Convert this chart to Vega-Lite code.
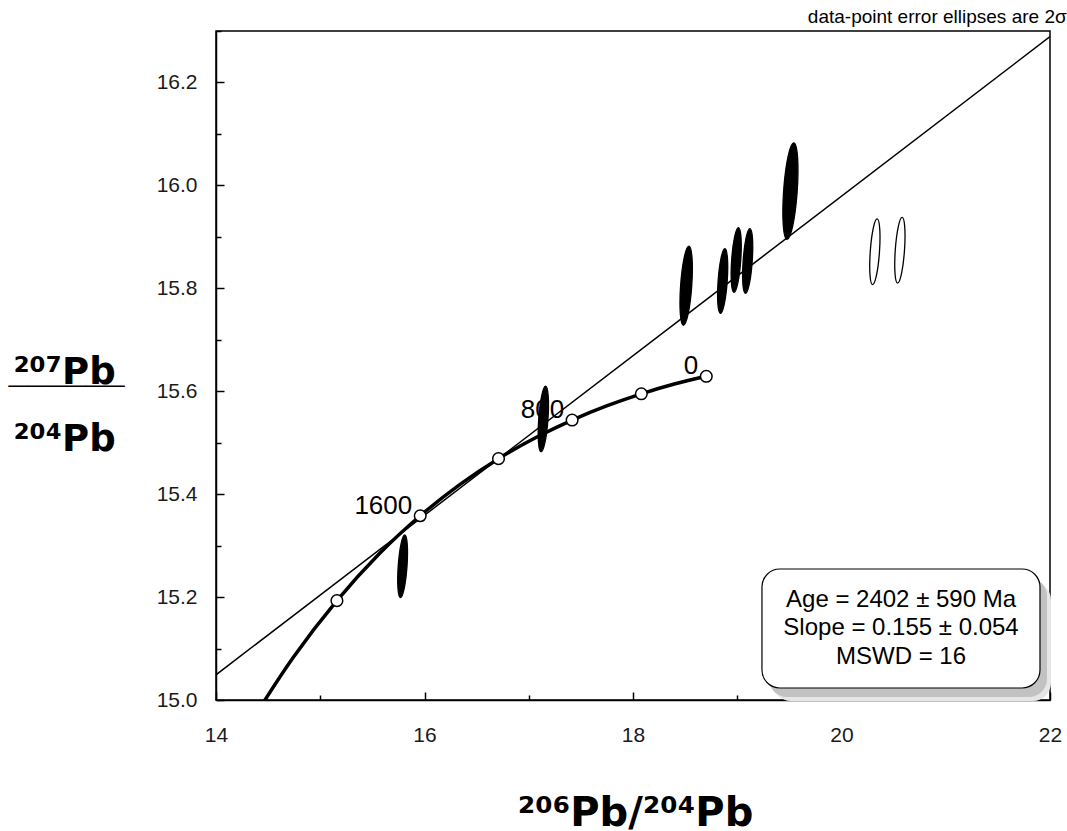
{
  "$schema": "https://vega.github.io/schema/vega-lite/v6.json",
  "width": 834,
  "height": 669,
  "autosize": "none",
  "padding": {"left": 216, "top": 31, "right": 17, "bottom": 131},
  "background": "white",
  "title": {
    "text": "data-point error ellipses are 2σ",
    "anchor": "end",
    "fontSize": 19,
    "fontWeight": "normal",
    "font": "Liberation Sans",
    "color": "#000000",
    "baseline": "alphabetic",
    "offset": 6,
    "dx": 5,
    "dy": 18
  },
  "config": {
    "view": {"stroke": "black", "strokeWidth": 1.5},
    "axis": {
      "domainColor": "black",
      "domainWidth": 1.5,
      "tickColor": "black",
      "tickWidth": 1.5,
      "grid": false,
      "labelFlush": false,
      "labelFont": "Liberation Sans",
      "labelFontSize": 21,
      "labelColor": "#1a1a1a",
      "titleFont": "DejaVu Sans",
      "titleFontWeight": "bold",
      "titleColor": "black"
    }
  },
  "resolve": {"axis": {"y": "independent"}},
  "datasets": {
    "iso": [
      {"x": 14, "y": 15.049},
      {"x": 22, "y": 16.289}
    ],
    "curve": [
      {"age": 0, "x": 18.703, "y": 15.629, "label": "0"},
      {"age": 200, "x": 18.396, "y": 15.614, "label": ""},
      {"age": 400, "x": 18.080, "y": 15.595, "label": ""},
      {"age": 600, "x": 17.753, "y": 15.572, "label": ""},
      {"age": 800, "x": 17.416, "y": 15.544, "label": "800"},
      {"age": 1000, "x": 17.069, "y": 15.510, "label": ""},
      {"age": 1200, "x": 16.710, "y": 15.469, "label": ""},
      {"age": 1400, "x": 16.341, "y": 15.419, "label": ""},
      {"age": 1600, "x": 15.959, "y": 15.358, "label": "1600"},
      {"age": 1800, "x": 15.566, "y": 15.284, "label": ""},
      {"age": 2000, "x": 15.160, "y": 15.193, "label": ""},
      {"age": 2200, "x": 14.742, "y": 15.083, "label": ""},
      {"age": 2400, "x": 14.310, "y": 14.949, "label": ""}
    ],
    "ellipses": [
      {"x": 15.79, "y": 15.260, "h": 0.122, "status": "used"},
      {"x": 17.14, "y": 15.546, "h": 0.128, "status": "used"},
      {"x": 18.51, "y": 15.805, "h": 0.154, "status": "used"},
      {"x": 18.86, "y": 15.814, "h": 0.126, "status": "used"},
      {"x": 18.99, "y": 15.855, "h": 0.126, "status": "used"},
      {"x": 19.10, "y": 15.853, "h": 0.126, "status": "used"},
      {"x": 19.51, "y": 15.989, "h": 0.188, "status": "used"},
      {"x": 20.32, "y": 15.871, "h": 0.128, "status": "rejected"},
      {"x": 20.56, "y": 15.874, "h": 0.128, "status": "rejected"}
    ],
    "box": [
      {"x": 19.237, "x2": 21.904, "y": 15.0233, "y2": 15.2546}
    ],
    "boxtext": [
      {"t": "Age = 2402 ± 590 Ma", "x": 20.571, "y": 15.194},
      {"t": "Slope = 0.155 ± 0.054", "x": 20.571, "y": 15.140},
      {"t": "MSWD = 16", "x": 20.571, "y": 15.084}
    ]
  },
  "encoding": {
    "x": {
      "field": "x",
      "type": "quantitative",
      "scale": {"domain": [14, 22], "nice": false, "zero": false},
      "axis": {
        "values": [14, 15, 16, 17, 18, 19, 20, 21, 22],
        "labelExpr": "datum.value % 2 === 0 ? datum.label : ''",
        "tickSize": {"condition": {"test": "datum.value % 2 === 0", "value": -8}, "value": -5},
        "labelPadding": 32,
        "title": "²⁰⁶Pb/²⁰⁴Pb",
        "titleFontSize": 40,
        "titleX": 419,
        "titleY": 125,
        "titleAlign": "center",
        "titleBaseline": "alphabetic"
      }
    },
    "y": {
      "field": "y",
      "type": "quantitative",
      "scale": {"domain": [15, 16.3], "nice": false, "zero": false},
      "axis": null
    }
  },
  "layer": [
    {
      "data": {"name": "iso"},
      "mark": {"type": "line", "opacity": 0},
      "encoding": {
        "y": {
          "field": "y",
          "type": "quantitative",
          "scale": {"domain": [15, 16.3], "nice": false, "zero": false},
          "axis": {
            "orient": "left",
            "domain": false,
            "ticks": false,
            "labels": false,
            "title": "¯¯¯¯¯¯",
            "titleFont": "Liberation Sans",
            "titleFontSize": 35,
            "titleAngle": 0,
            "titleAlign": "center",
            "titleBaseline": "alphabetic",
            "titleX": -150,
            "titleY": 380
          }
        }
      }
    },
    {
      "data": {"name": "box"},
      "mark": {"type": "rect", "fill": "#e6e6e6", "cornerRadius": 18, "xOffset": 11, "x2Offset": 11, "yOffset": 13, "y2Offset": 13},
      "encoding": {"x2": {"field": "x2"}, "y2": {"field": "y2"}}
    },
    {
      "data": {"name": "box"},
      "mark": {"type": "rect", "fill": "#c2c2c2", "cornerRadius": 18, "xOffset": 7, "x2Offset": 7, "yOffset": 9, "y2Offset": 9},
      "encoding": {"x2": {"field": "x2"}, "y2": {"field": "y2"}}
    },
    {
      "data": {"name": "box"},
      "mark": {"type": "rect", "fill": "white", "stroke": "black", "strokeWidth": 1.2, "cornerRadius": 18},
      "encoding": {"x2": {"field": "x2"}, "y2": {"field": "y2"}}
    },
    {
      "data": {"name": "boxtext"},
      "mark": {"type": "text", "align": "center", "baseline": "middle", "fontSize": 24, "font": "Liberation Sans", "color": "black"},
      "encoding": {"text": {"field": "t"}}
    },
    {
      "data": {"name": "iso"},
      "mark": {"type": "line", "color": "black", "strokeWidth": 1.5, "clip": true},
      "encoding": {
        "y": {
          "field": "y",
          "type": "quantitative",
          "scale": {"domain": [15, 16.3], "nice": false, "zero": false},
          "axis": {
            "orient": "left",
            "values": [15, 15.1, 15.2, 15.3, 15.4, 15.5, 15.6, 15.7, 15.8, 15.9, 16, 16.1, 16.2, 16.3],
            "labelExpr": "round(datum.value * 10) % 2 === 0 ? format(datum.value, '.1f') : ''",
            "tickSize": {"condition": {"test": "round(datum.value * 10) % 2 === 0", "value": -8}, "value": -5},
            "labelPadding": 27,
            "title": ["²⁰⁷Pb", "²⁰⁴Pb"],
            "titleFontSize": 37,
            "titleLineHeight": 67,
            "titleAngle": 0,
            "titleAlign": "center",
            "titleBaseline": "alphabetic",
            "titleX": -152,
            "titleY": 352
          }
        }
      }
    },
    {
      "data": {"name": "curve"},
      "mark": {"type": "line", "color": "black", "strokeWidth": 3.5, "interpolate": "monotone", "clip": true},
      "encoding": {}
    },
    {
      "data": {"name": "curve"},
      "transform": [{"filter": "datum.label !== ''"}],
      "mark": {"type": "text", "align": "right", "baseline": "middle", "dx": -8, "dy": -10, "fontSize": 26, "font": "Liberation Sans", "color": "black"},
      "encoding": {"text": {"field": "label"}}
    },
    {
      "data": {"name": "ellipses"},
      "mark": {"type": "point", "filled": true, "stroke": "black", "strokeWidth": 1.3, "opacity": 1},
      "encoding": {
        "shape": {"value": "M0,-1C0.0773,-1 0.14,-0.5523 0.14,0C0.14,0.5523 0.0773,1 0,1C-0.0773,1 -0.14,0.5523 -0.14,0C-0.14,-0.5523 -0.0773,-1 0,-1Z"},
        "size": {"field": "h", "type": "quantitative", "scale": {"type": "pow", "exponent": 2, "domain": [0, 1], "range": [0, 264800]}, "legend": null},
        "fill": {"field": "status", "type": "nominal", "scale": {"domain": ["used", "rejected"], "range": ["#000000", "#ffffff"]}, "legend": null},
        "angle": {"value": 4}
      }
    },
    {
      "data": {"name": "curve"},
      "transform": [{"filter": "datum.age % 400 === 0 && datum.age <= 2000"}],
      "mark": {"type": "point", "shape": "circle", "filled": true, "fill": "white", "stroke": "black", "strokeWidth": 1.5, "size": 135, "opacity": 1},
      "encoding": {}
    }
  ]
}
